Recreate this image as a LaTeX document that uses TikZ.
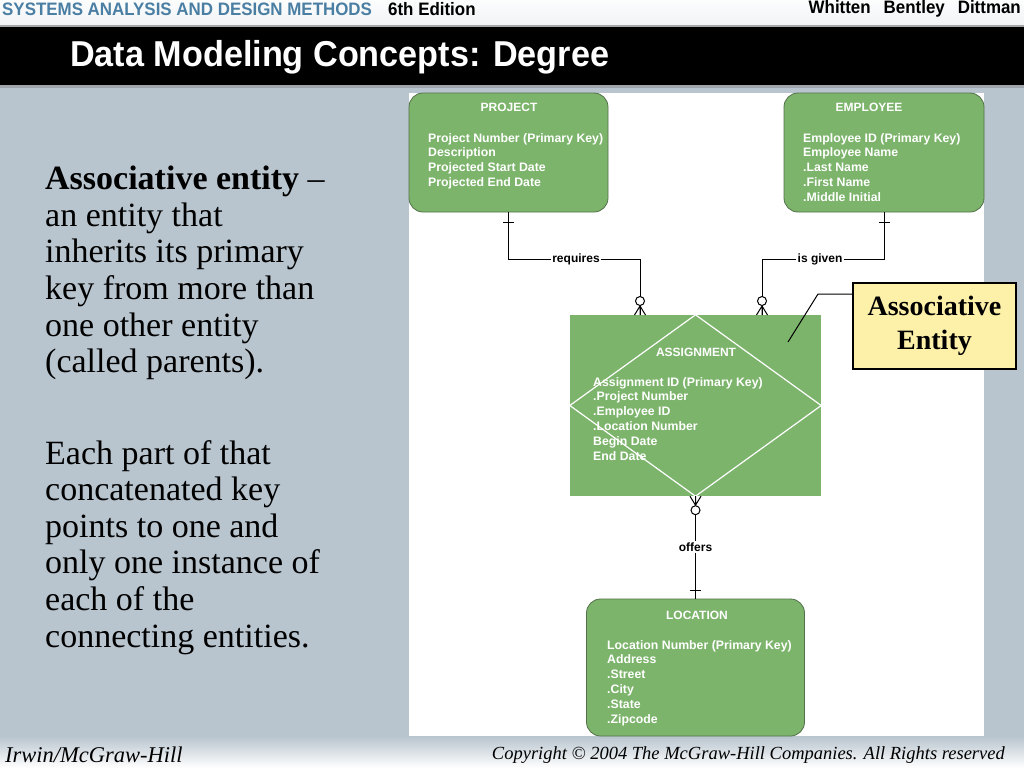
\documentclass[tikz,border=0pt]{standalone}
\usepackage{fontspec}
\setmainfont{Liberation Serif}
\newfontfamily\arial{Liberation Sans}
\newfontfamily\narrow[FakeStretch=0.94]{Liberation Sans}
\newfontfamily\titlefont[FakeStretch=0.95]{Liberation Sans}
\definecolor{bgblue}{HTML}{B8C4CE}
\definecolor{entgreen}{HTML}{7CB46B}
\definecolor{entedge}{HTML}{52704A}
\definecolor{hdrblue}{HTML}{4A7FA3}
\definecolor{callfill}{HTML}{FDF0A8}
\tikzset{
  entity/.style={draw=entedge, line width=0.8pt, fill=entgreen, rounded corners=14pt, inner sep=0pt},
  etitle/.style={text=white, inner sep=0pt, font=\arial\bfseries\fontsize{12}{15}\selectfont},
  eattr/.style={text=white, inner sep=0pt, anchor=north west, align=left, font=\arial\bfseries\fontsize{12.3}{14.8}\selectfont},
  conn/.style={line width=1pt, black},
  rlabel/.style={fill=white, inner sep=1pt, font=\arial\bfseries\fontsize{12}{13}\selectfont},
  bodytext/.style={anchor=north west, inner sep=0pt, align=left, font=\fontsize{34}{36.6}\selectfont},
  callout/.style={draw=black, line width=1.2pt, fill=callfill, align=center, inner sep=0pt, font=\bfseries\fontsize{28}{34}\selectfont},
  hdr/.style={inner sep=0pt, font=\narrow\bfseries\fontsize{18}{20}\selectfont},
  manyopt/.pic={
    \draw[conn] (-5.5,0) -- (0,-9) (0,0) -- (0,-9) (5.5,0) -- (0,-9);
    \draw[conn, fill=white] (0,-14) circle (4.5);
  }
}
\begin{document}
\begin{tikzpicture}[x=1pt,y=-1pt]
\useasboundingbox (0,0) rectangle (1024,768);
% backgrounds
\fill[bgblue] (0,0) rectangle (1024,768);
\shade[top color=white!96!bgblue, bottom color=white!80!bgblue] (0,0) rectangle (1024,25);
\fill[gray!70] (0,25) rectangle (1024,27);
\fill[black] (0,27) rectangle (1024,85);
\fill[gray!45!bgblue] (0,85) rectangle (1024,88);
\shade[top color=bgblue, bottom color=white] (0,736) rectangle (1024,768);
\fill[white] (409,93) rectangle (984,736);

% header
\node[hdr, anchor=west, text=hdrblue] (hdrA) at (2,9) {SYSTEMS ANALYSIS AND DESIGN METHODS};
\node[hdr, anchor=west] (hdrB) at (388,9) {6th Edition};
\node[hdr, anchor=east] (hdrC) at (1021,9) {Whitten\hspace{13pt}Bentley\hspace{13pt}Dittman};
\node[anchor=west, inner sep=0pt, text=white, font=\titlefont\bfseries\fontsize{36}{40}\selectfont] (title) at (70,57) {Data Modeling Concepts: Degree};

% left text
\node[bodytext] (para1) at (45,166) {\textbf{Associative entity} --\\an entity that\\inherits its primary\\key from more than\\one other entity\\(called parents).};
\node[bodytext] (para2) at (45,440) {Each part of that\\concatenated key\\points to one and\\only one instance of\\each of the\\connecting entities.};

% entities
\node[entity, minimum width=199pt, minimum height=119pt] (project) at (508.5,152.5) {};
\node[etitle] (projectT) at (509,107) {PROJECT};
\node[eattr] (projectA) at (428,133) {Project Number (Primary Key)\\Description\\Projected Start Date\\Projected End Date};

\node[entity, minimum width=200pt, minimum height=119pt] (employee) at (884,152.5) {};
\node[etitle] (employeeT) at (869,107) {EMPLOYEE};
\node[eattr] (employeeA) at (803,133) {Employee ID (Primary Key)\\Employee Name\\.Last Name\\.First Name\\.Middle Initial};

\node[fill=entgreen, inner sep=0pt, minimum width=251pt, minimum height=181pt] (assign) at (695.5,405.5) {};
\draw[white, line width=1.2pt] (assign.north) -- (assign.east) -- (assign.south) -- (assign.west) -- cycle;
\node[etitle] (assignT) at (696,352) {ASSIGNMENT};
\node[eattr] (assignA) at (593,377) {Assignment ID (Primary Key)\\.Project Number\\.Employee ID\\.Location Number\\Begin Date\\End Date};

\node[entity, minimum width=218pt, minimum height=137pt] (location) at (695.5,667.5) {};
\node[etitle] (locationT) at (697,615) {LOCATION};
\node[eattr] (locationA) at (607,640) {Location Number (Primary Key)\\Address\\.Street\\.City\\.State\\.Zipcode};

% relationships
\coordinate (reqEnd) at (640,315);
\coordinate (givEnd) at (762,315);
\node[rlabel] (reqL) at (576,259) {requires};
\node[rlabel] (givL) at (820,259) {is given};
\node[rlabel] (offL) at (695.5,547) {offers};

\draw[conn] (project.south) |- (reqL.west);
\draw[conn] (reqL.east) -| (reqEnd);
\draw[conn] (employee.south) |- (givL.east);
\draw[conn] (givL.west) -| (givEnd);
\draw[conn] (assign.south) -- (offL.north);
\draw[conn] (offL.south) -- (location.north);

% cardinality marks
\draw[conn] (503,222) -- (514,222);
\draw[conn] (878.5,222) -- (889.5,222);
\draw[conn] (690,590) -- (701,590);
\pic at (reqEnd) {manyopt};
\pic at (givEnd) {manyopt};
\pic[rotate=180] at (assign.south) {manyopt};

% callout
\node[callout, minimum width=163pt, minimum height=86pt] (callout) at (934.5,326) {Associative\\Entity};
\coordinate (callK) at (818,294);
\coordinate (callP) at (788,342);
\draw[line width=1pt] (callout.west |- callK) -- (callK) -- (callP);

% footer
\node[anchor=west, inner sep=0pt, font=\itshape\fontsize{22.5}{24}\selectfont] (foot1) at (5,755) {Irwin/McGraw-Hill};
\node[anchor=east, inner sep=0pt, font=\itshape\fontsize{18.5}{20}\selectfont] (foot2) at (1005,755) {Copyright © 2004 The McGraw-Hill Companies. All Rights reserved};
\end{tikzpicture}
\end{document}
